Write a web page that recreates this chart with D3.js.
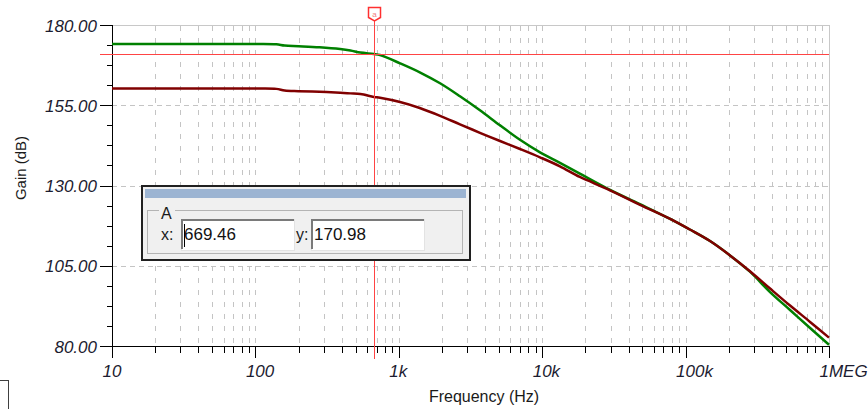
<!DOCTYPE html>
<html>
<head>
<meta charset="utf-8">
<script src="https://cdn.jsdelivr.net/npm/d3@7/dist/d3.min.js"></script>
<style>
  html, body { margin: 0; padding: 0; background: #fff; }
  svg { display: block; }
  text { font-family: "Liberation Sans", Arial, sans-serif; }
</style>
</head>
<body>
<svg id="chart" width="868" height="409"></svg>
<script>
// ---- data ----
const freqs = [10, 20, 50, 100, 140, 160, 200, 280, 390, 460, 540, 670, 740, 1020, 1400, 1940, 2670, 3680, 5080, 7000, 9650, 13300, 18300, 28300, 48100, 78000, 107000, 148000, 203000, 281000, 388000, 535000, 738000, 1000000];
const gainGreen = [174.1, 174.1, 174.1, 174.1, 174.0, 173.6, 173.4, 173.05, 172.5, 172.05, 171.4, 170.98, 170.65, 168.07, 165.27, 161.84, 157.79, 153.43, 148.75, 144.24, 140.34, 137.07, 133.71, 129.13, 124.2, 119.6, 116.29, 112.7, 108.3, 103.15, 96.8, 91.2, 85.6, 80.4];
const gainRed = [160.2, 160.2, 160.2, 160.2, 160.1, 159.6, 159.4, 159.2, 158.9, 158.7, 158.5, 157.6, 157.32, 156.0, 154.14, 151.71, 149.06, 146.42, 143.86, 141.37, 138.78, 135.98, 132.65, 128.97, 123.99, 119.6, 116.29, 112.7, 108.3, 103.3, 97.9, 92.6, 87.5, 82.6];
const xTickValues = [10, 100, 1000, 10000, 100000, 1000000];
const xTickLabels = ["10", "100", "1k", "10k", "100k", "1MEG"];
const yTickValues = [80, 105, 130, 155, 180];
const yTickLabels = ["80.00", "105.00", "130.00", "155.00", "180.00"];
const cursorX = 669.46;
const cursorY = 170.98;
const cursorName = "A";
const xLabel = "Frequency (Hz)";
const yLabel = "Gain (dB)";

// ---- layout ----
const L = 112, R = 829, T = 25, B = 346;
const svg = d3.select("#chart");
const x = d3.scaleLog().domain([10, 1e6]).range([L, R]);
const y = d3.scaleLinear().domain([80, 180]).range([B, T]);

// minor x values
const xMinor = [];
for (let d = 10; d < 1e6; d *= 10) for (let k = 2; k <= 9; k++) xMinor.push(d * k);
// minor y values (3 between majors)
const yMinor = [];
for (let i = 0; i < yTickValues.length - 1; i++)
  for (let k = 1; k <= 3; k++) yMinor.push(yTickValues[i] + k * 6.25);

const px = v => Math.round(x(v)) + 0.5;
const py = v => Math.round(y(v)) + 0.5;

// grid
const grid = svg.append("g").attr("shape-rendering", "crispEdges");
grid.selectAll("line.vg").data(xMinor.concat(xTickValues.slice(1, -1))).join("line")
  .attr("x1", d => px(d)).attr("x2", d => px(d)).attr("y1", T + 1).attr("y2", B)
  .attr("stroke", "#c4c4c4").attr("stroke-dasharray", "5,7");
grid.selectAll("line.hg").data([105, 130, 155]).join("line")
  .attr("x1", L).attr("x2", R).attr("y1", d => py(d)).attr("y2", d => py(d))
  .attr("stroke", "#c4c4c4").attr("stroke-dasharray", "5,4");
// frame top/right
grid.append("line").attr("x1", L).attr("x2", R + 0.5).attr("y1", T + 0.5).attr("y2", T + 0.5).attr("stroke", "#c8c8c8");
grid.append("line").attr("x1", R + 0.5).attr("x2", R + 0.5).attr("y1", T).attr("y2", B).attr("stroke", "#c8c8c8");

// axes
const xAxisG = svg.append("g").attr("transform", `translate(0,${B})`);
xAxisG.call(d3.axisBottom(x).tickValues(xTickValues).tickSize(12).tickFormat((d, i) => xTickLabels[i]));
const xMinorG = svg.append("g").attr("transform", `translate(0,${B})`);
xMinorG.call(d3.axisBottom(x).tickValues(xMinor).tickSize(7).tickFormat(""));
xMinorG.select(".domain").remove();
xAxisG.select(".domain").attr("d", `M${L - 12},0.5H${R}`);

const yAxisG = svg.append("g").attr("transform", `translate(${L},0)`);
yAxisG.call(d3.axisLeft(y).tickValues(yTickValues).tickSize(12).tickFormat((d, i) => yTickLabels[i]));
const yMinorG = svg.append("g").attr("transform", `translate(${L},0)`);
yMinorG.call(d3.axisLeft(y).tickValues(yMinor).tickSize(5).tickFormat(""));
yMinorG.select(".domain").remove();
yAxisG.select(".domain").attr("d", `M0.5,${T}V${B + 12}`);

[xAxisG, xMinorG, yAxisG, yMinorG].forEach(g => {
  g.attr("shape-rendering", "crispEdges");
  g.selectAll("line").attr("stroke", "#000");
  g.select(".domain").attr("stroke", "#000");
});
xAxisG.selectAll("text")
  .attr("font-size", 17).attr("font-style", "italic").attr("fill", "#1c1c30")
  .attr("text-anchor", "start").attr("dx", -10).attr("dy", 0).attr("y", 31);
yAxisG.selectAll("text")
  .attr("font-size", 17).attr("font-style", "italic").attr("fill", "#1c1c30")
  .attr("x", -15).attr("dy", "0.36em");

// axis titles
svg.append("text").attr("x", 484).attr("y", 402).attr("text-anchor", "middle")
  .attr("font-size", 16).attr("fill", "#1a1a1a").text(xLabel);
svg.append("text").attr("transform", "translate(26,168) rotate(-90)").attr("text-anchor", "middle")
  .attr("font-size", 15).attr("fill", "#1a1a1a").text(yLabel);

// curves
const line = d3.line().x(d => x(d[0])).y(d => y(d[1])).curve(d3.curveCatmullRom.alpha(0.5));
svg.append("path").datum(freqs.map((f, i) => [f, gainGreen[i]])).attr("d", line)
  .attr("fill", "none").attr("stroke", "#008000").attr("stroke-width", 2.5);
svg.append("path").datum(freqs.map((f, i) => [f, gainRed[i]])).attr("d", line)
  .attr("fill", "none").attr("stroke", "#800000").attr("stroke-width", 2.5);

// cursor
const cx = Math.round(x(cursorX)) + 0.5, cy = Math.round(y(cursorY)) + 0.5;
const cur = svg.append("g").attr("shape-rendering", "crispEdges");
cur.append("line").attr("x1", L - 12).attr("x2", R).attr("y1", cy).attr("y2", cy).attr("stroke", "#ff4444");
cur.append("line").attr("x1", cx).attr("x2", cx).attr("y1", 20).attr("y2", B + 13).attr("stroke", "#ff4444");
svg.append("path").attr("d", `M${cx - 6},7.5h12v10l-6,3.5l-6,-3.5z`)
  .attr("fill", "#fff").attr("stroke", "#ff3030").attr("stroke-width", 1.5);
svg.append("text").attr("x", cx).attr("y", 17).attr("text-anchor", "middle")
  .attr("font-size", 8).attr("fill", "#f08080").text("a");

// cursor readout dialog
const dlg = svg.append("g").attr("shape-rendering", "crispEdges");
dlg.append("rect").attr("x", 142).attr("y", 186).attr("width", 328).attr("height", 73.5)
  .attr("fill", "#f0f0f0").attr("stroke", "#202020").attr("stroke-width", 2);
dlg.append("rect").attr("x", 145).attr("y", 189).attr("width", 321).attr("height", 9).attr("fill", "#9cb4d2");
dlg.append("rect").attr("x", 147.5).attr("y", 210.5).attr("width", 315).attr("height", 43)
  .attr("fill", "none").attr("stroke", "#b4b4b4");
dlg.append("rect").attr("x", 159).attr("y", 206).attr("width", 16).attr("height", 8).attr("fill", "#f0f0f0");
dlg.append("text").attr("x", 161).attr("y", 218.5).attr("font-size", 16).attr("fill", "#1a1a1a").text(cursorName);
dlg.append("text").attr("x", 161).attr("y", 240).attr("font-size", 16).attr("fill", "#1a1a1a").text("x:");
dlg.append("text").attr("x", 296).attr("y", 240).attr("font-size", 16).attr("fill", "#1a1a1a").text("y:");
[[181, d3.format(".2f")(cursorX)], [311, d3.format(".2f")(cursorY)]].forEach(([bx, t]) => {
  dlg.append("rect").attr("x", bx).attr("y", 219).attr("width", 113).attr("height", 31).attr("fill", "#fff")
    .attr("stroke", "#e3e3e3");
  dlg.append("path").attr("d", `M${bx + 1},${249}V${220}H${bx + 113}`).attr("fill", "none")
    .attr("stroke", "#7a7a7a").attr("stroke-width", 2);
  dlg.append("text").attr("x", bx + 3).attr("y", 240).attr("font-size", 17).attr("fill", "#111")
    .attr("shape-rendering", "auto").text(t);
});
dlg.append("line").attr("x1", 184.5).attr("x2", 184.5).attr("y1", 224).attr("y2", 247).attr("stroke", "#000");

// small partial window at bottom-left
svg.append("rect").attr("x", -1).attr("y", 380.5).attr("width", 9).attr("height", 40)
  .attr("fill", "#fff").attr("stroke", "#404040").attr("shape-rendering", "crispEdges");
</script>
</body>
</html>
